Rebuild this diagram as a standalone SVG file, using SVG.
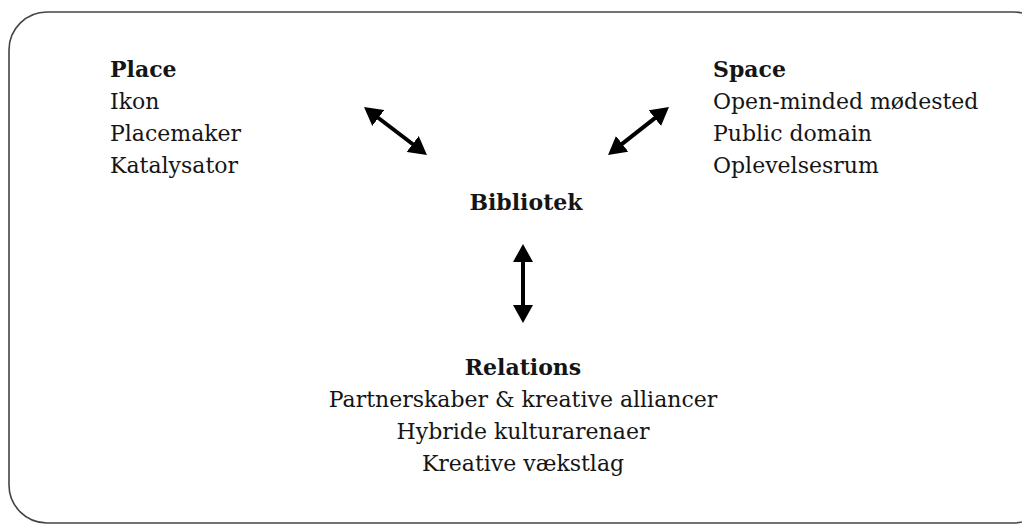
<svg xmlns="http://www.w3.org/2000/svg" width="1022" height="525" viewBox="0 0 1022 525">
  <style>
    .t { font-family: "DejaVu Serif", "Liberation Serif", serif; font-size: 22px; fill: #151515; }
    .b { font-weight: bold; }
    .c { text-anchor: middle; }
    .conn { stroke: #000; stroke-width: 4; fill: none; marker-start: url(#ah); marker-end: url(#ah); }
  </style>
  <defs>
    <marker id="ah" markerUnits="userSpaceOnUse" markerWidth="18" markerHeight="20" refX="9" refY="10" orient="auto-start-reverse" viewBox="0 0 18 20">
      <path d="M0,0 L18,10 L0,20 z" fill="#000"/>
    </marker>
  </defs>
  <rect width="1022" height="525" fill="#fff"/>
  <rect id="frame" x="9" y="12" width="1042" height="511" rx="38" ry="38" fill="none" stroke="#444" stroke-width="1.6"/>

  <g id="place">
    <text class="t b" x="110" y="77">Place</text>
    <text class="t" x="110" y="109">Ikon</text>
    <text class="t" x="110" y="141">Placemaker</text>
    <text class="t" x="110" y="173">Katalysator</text>
  </g>
  <g id="space">
    <text class="t b" x="713" y="77">Space</text>
    <text class="t" x="713" y="109">Open-minded mødested</text>
    <text class="t" x="713" y="141">Public domain</text>
    <text class="t" x="713" y="173">Oplevelsesrum</text>
  </g>
  <g id="bibliotek">
    <text class="t b c" x="526" y="210">Bibliotek</text>
  </g>
  <g id="relations">
    <text class="t b c" x="523" y="375">Relations</text>
    <text class="t c" x="523" y="407">Partnerskaber &amp; kreative alliancer</text>
    <text class="t c" x="523" y="439">Hybride kulturarenaer</text>
    <text class="t c" x="523" y="471">Kreative vækstlag</text>
  </g>
  <g id="connectors">
    <line class="conn" x1="371.2" y1="112.5" x2="419.8" y2="149.5"/>
    <line class="conn" x1="615.1" y1="149.4" x2="661.9" y2="112.6"/>
    <line class="conn" x1="523" y1="253" x2="523" y2="314"/>
  </g>
</svg>
